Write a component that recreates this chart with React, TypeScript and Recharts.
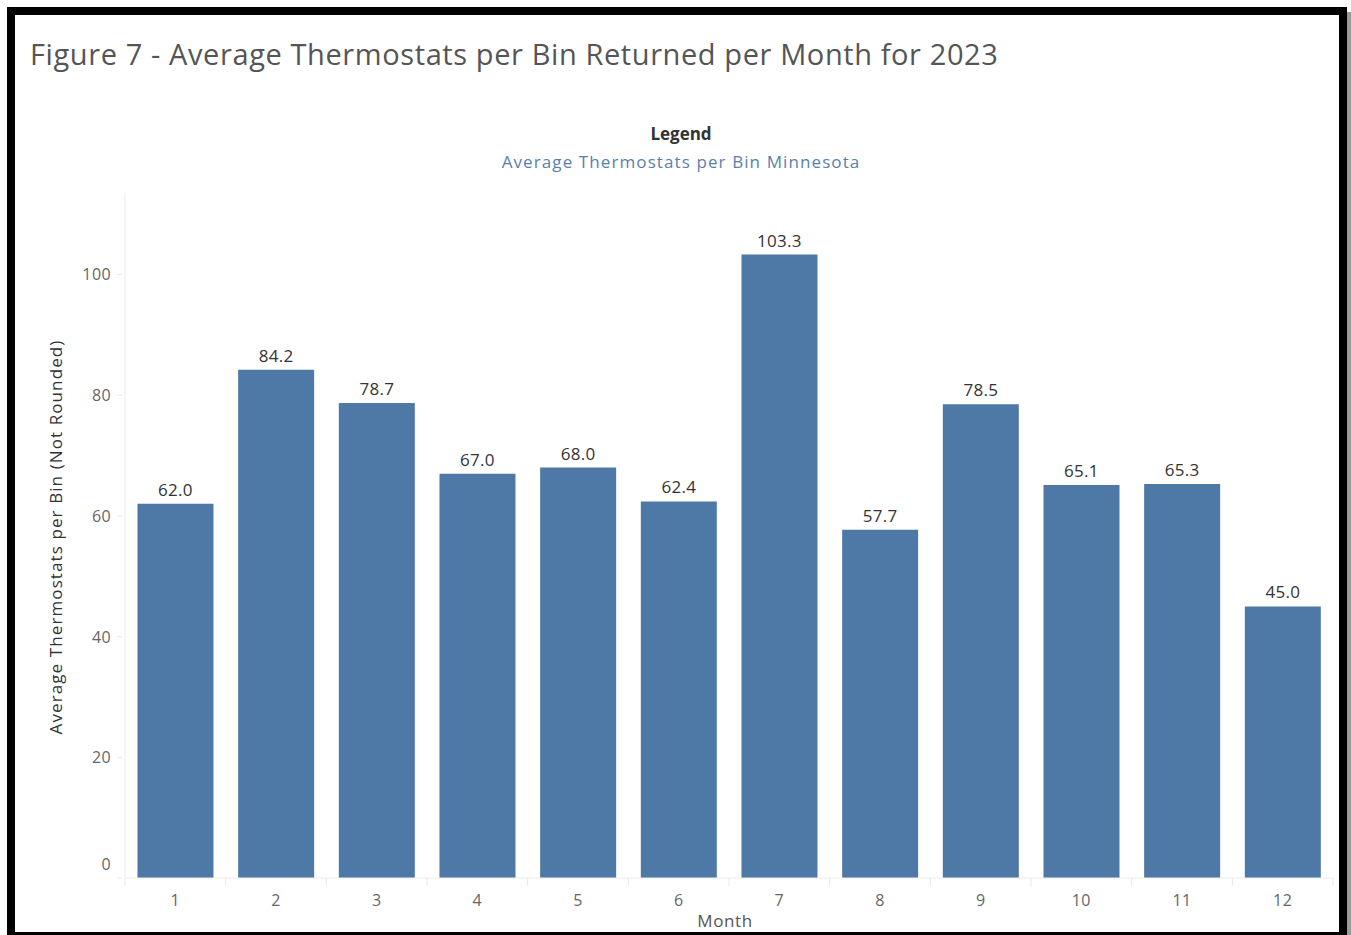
import React from 'react';
import { BarChart, Bar, XAxis, YAxis, LabelList } from 'recharts';

// Figure 7 data
const months = ['1', '2', '3', '4', '5', '6', '7', '8', '9', '10', '11', '12'];
const avgPerBin = [62.0, 84.2, 78.7, 67.0, 68.0, 62.4, 103.3, 57.7, 78.5, 65.1, 65.3, 45.0];
const yTicks = [0, 20, 40, 60, 80, 100];

const data = months.map((m, i) => ({ month: m, value: avgPerBin[i] }));

const W = 1351;
const H = 935;
const FONT = '"Open Sans", "Noto Sans", sans-serif';
const BAR_BLUE = '#4e79a7';
const PLOT_LEFT = 125;
const PLOT_RIGHT = 18;
const BAND = (W - PLOT_LEFT - PLOT_RIGHT) / months.length;

const XTick = (props: any) => {
  const { x, y, payload } = props;
  return (
    <g>
      <line x1={x - BAND / 2} x2={x - BAND / 2} y1={y - 8} y2={y} stroke="#e8e8e8" />
      {payload.index === months.length - 1 && (
        <line x1={x + BAND / 2} x2={x + BAND / 2} y1={y - 8} y2={y} stroke="#e8e8e8" />
      )}
      <text x={x} y={y + 20} textAnchor="middle" fill="#666" fontSize={16} fontFamily={FONT} letterSpacing={0.4}>
        {payload.value}
      </text>
    </g>
  );
};

const YTick = (props: any) => {
  const { x, y, payload } = props;
  // tableau nudges the zero label up so it stays above the axis
  const shift = payload.value === 0 ? -14 : 0;
  return (
    <g>
      <line x1={x} x2={x + 5} y1={y} y2={y} stroke="#e8e8e8" />
      <text x={x - 6} y={y + shift + 6} textAnchor="end" fill="#666" fontSize={16} fontFamily={FONT} letterSpacing={0.4}>
        {payload.value}
      </text>
    </g>
  );
};

export default function App() {
  return (
    <div style={{ position: 'absolute', left: 0, top: 0, width: W, height: H, overflow: 'hidden', background: '#fff', fontFamily: FONT }}>
      {/* grey drop shadow on the right */}
      <div style={{ position: 'absolute', left: 1347, top: 12, width: 4, height: H, background: '#9a9a9a' }} />
      <div
        style={{
          position: 'absolute',
          left: 7,
          top: 7,
          width: 1340,
          height: 933,
          border: '8px solid #000',
          boxSizing: 'border-box',
        }}
      />
      <div style={{ position: 'absolute', left: 30, top: 34, fontSize: 29, color: '#555', whiteSpace: 'nowrap', letterSpacing: 0.6 }}>
        Figure 7 - Average Thermostats per Bin Returned per Month for 2023
      </div>
      <div style={{ position: 'absolute', left: 0, width: 1362, top: 122, textAlign: 'center', fontSize: 17, fontWeight: 700, color: '#333' }}>
        Legend
      </div>
      <div style={{ position: 'absolute', left: 0, width: 1362, top: 150, textAlign: 'center', fontSize: 17, color: '#5a7fad', letterSpacing: 1.1 }}>
        Average Thermostats per Bin Minnesota
      </div>
      <div
        style={{
          position: 'absolute',
          left: 55,
          top: 537,
          transform: 'translate(-50%, -50%) rotate(-90deg)',
          fontSize: 17,
          color: '#333',
          whiteSpace: 'nowrap',
          letterSpacing: 1.1,
        }}
      >
        Average Thermostats per Bin (Not Rounded)
      </div>
      <div style={{ position: 'absolute', left: 0, width: 1450, top: 909, textAlign: 'center', fontSize: 17, color: '#555', letterSpacing: 0.6 }}>
        Month
      </div>
      <div style={{ position: 'absolute', left: 0, top: 0 }}>
        <BarChart
          width={W}
          height={H}
          data={data}
          margin={{ top: 193, right: PLOT_RIGHT, bottom: 27, left: PLOT_LEFT - 60 }}
          barCategoryGap="12.4%"
        >
          <XAxis
            dataKey="month"
            height={30}
            axisLine={{ stroke: '#ececec' }}
            tickLine={false}
            tick={<XTick />}
            interval={0}
          />
          <YAxis
            width={60}
            domain={[0, 113.5]}
            ticks={yTicks}
            axisLine={{ stroke: '#ececec' }}
            tickLine={false}
            tick={<YTick />}
          />
          <Bar dataKey="value" fill={BAR_BLUE} isAnimationActive={false}>
            <LabelList
              dataKey="value"
              position="top"
              offset={8}
              formatter={(v: any) => Number(v).toFixed(1)}
              style={{ fill: '#333', fontSize: 17, fontFamily: FONT, letterSpacing: 0.3 }}
            />
          </Bar>
        </BarChart>
      </div>
    </div>
  );
}
